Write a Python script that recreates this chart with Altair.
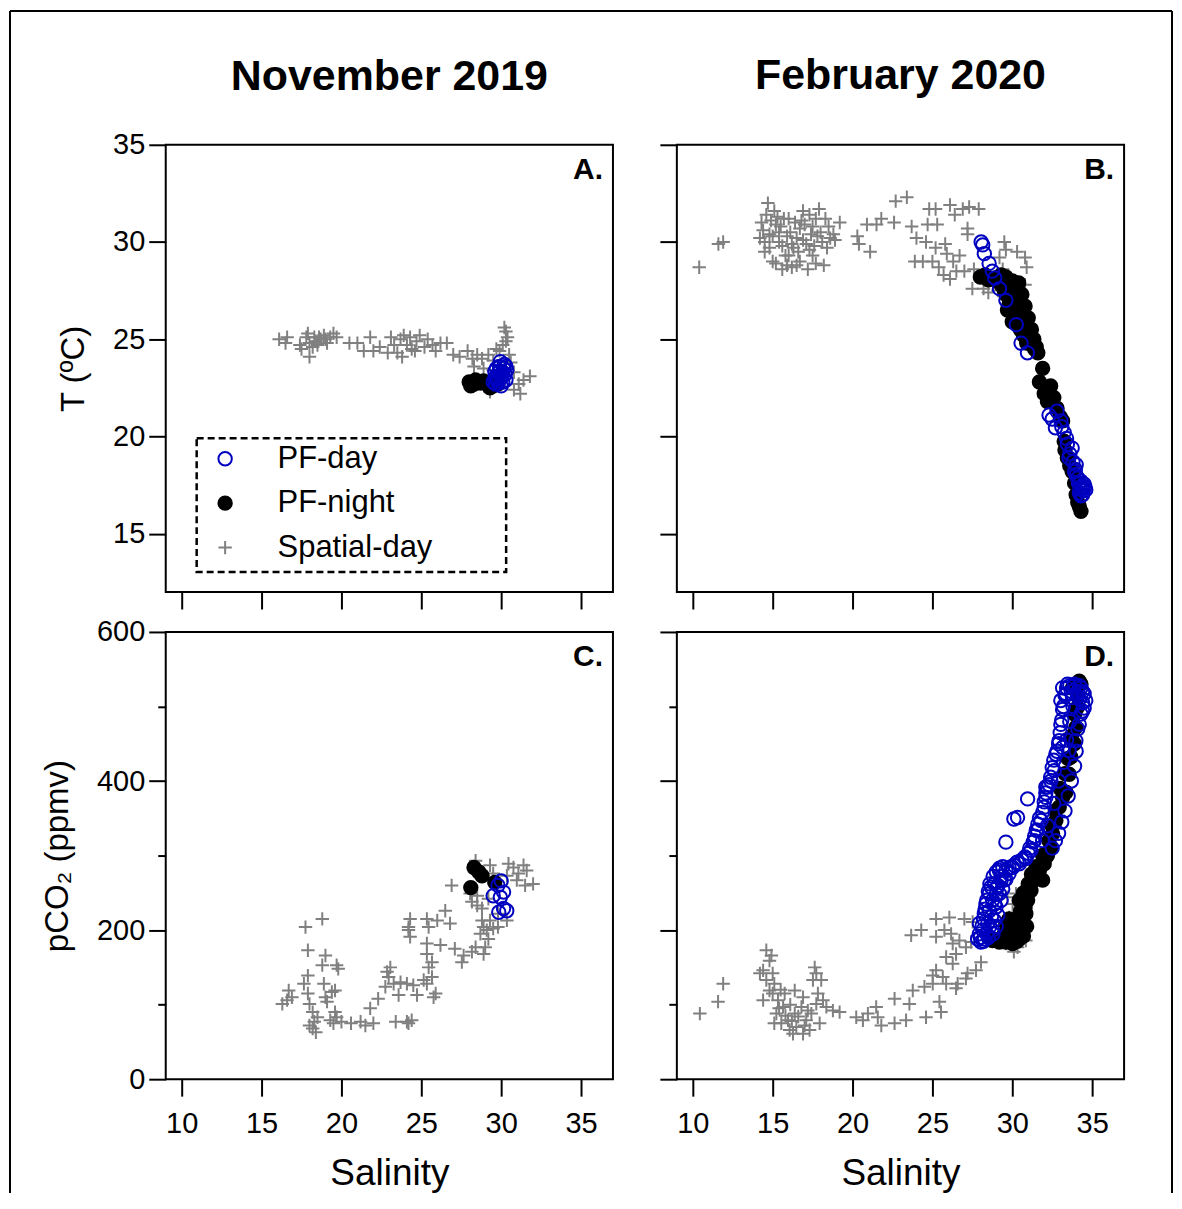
import altair as alt
import pandas as pd

FONT = "Liberation Sans, Arial, Helvetica, sans-serif"

SERIES = ["PF-day", "PF-night", "Spatial-day"]
STROKES = ["#0000C0", "#000000", "#808080"]
FILLS = ["transparent", "#000000", "transparent"]
SHAPES = ["circle", "circle", "M-1,0L1,0M0,-1L0,1"]

COLUMN_TITLES = ["November 2019", "February 2020"]
PANEL_LABELS = ["A.", "B.", "C.", "D."]
SAL_DOMAIN = [9, 37]
SAL_TICKS = [10, 15, 20, 25, 30, 35]
T_DOMAIN = [12, 35]
T_TICKS = [15, 20, 25, 30, 35]
PCO2_DOMAIN = [0, 600]
PCO2_TICKS = [0, 100, 200, 300, 400, 500, 600]

# ---------------- Panel A: November 2019, salinity vs T ----------------
A_SPATIAL = [
    (16.1, 25.0), (16.5, 24.8), (16.6, 25.1), (17.4, 24.7), (17.5, 24.5), (17.8, 25.1),
    (17.9, 25.3), (18.0, 24.8), (18.0, 24.1), (18.2, 24.6), (18.3, 25.1), (18.4, 24.9),
    (18.5, 24.7), (18.6, 25.1), (18.7, 25.0), (18.9, 25.2), (19.0, 25.0), (19.1, 24.8),
    (19.3, 25.1), (19.5, 25.3), (19.7, 25.1), (20.5, 24.8), (21.0, 24.8), (21.4, 24.4),
    (21.8, 25.1), (22.0, 24.4), (22.4, 24.6), (22.9, 24.3), (23.1, 25.1), (23.3, 24.7),
    (23.5, 24.3), (23.7, 25.0), (23.8, 24.1), (23.9, 25.2), (24.1, 24.7), (24.3, 25.1),
    (24.4, 24.5), (24.6, 24.4), (24.7, 24.9), (24.9, 25.2), (25.2, 24.6), (25.4, 25.0),
    (25.7, 24.7), (25.9, 24.4), (26.2, 24.8), (26.6, 24.8), (27.0, 24.2), (27.4, 24.1),
    (27.9, 24.4), (28.2, 24.0), (28.5, 24.2), (28.8, 24.0), (29.2, 24.2), (29.5, 23.9),
    (29.7, 24.5), (30.1, 24.7), (30.2, 25.6), (30.3, 25.4), (30.4, 25.1), (30.3, 24.9),
    (30.5, 24.2), (30.6, 23.8), (30.8, 23.3), (31.1, 22.7), (31.4, 22.9), (31.8, 23.1),
    (31.2, 22.2), (30.8, 22.4), (29.3, 22.3), (28.9, 23.5), (28.3, 23.6), (29.5, 23.4),
    (29.9, 24.4),
]
A_NIGHT = [(28.0, 22.8), (28.4, 22.9), (28.7, 22.75), (29.1, 22.7), (29.5, 22.6),
           (29.8, 22.7), (28.1, 22.6), (28.3, 22.7), (29.3, 22.5), (28.9, 22.85)]
A_DAY = [(29.5, 22.8), (29.7, 23.1), (29.9, 23.35), (30.15, 23.5), (30.0, 23.0),
         (29.8, 22.75), (30.25, 23.2), (29.6, 23.35), (29.9, 23.6), (29.7, 23.5),
         (30.1, 23.3), (29.8, 23.0), (30.3, 22.9), (30.0, 22.6), (29.6, 23.0),
         (30.2, 23.7), (29.95, 23.85), (30.35, 23.4), (29.75, 22.9), (30.05, 23.15),
         (29.85, 23.3), (30.1, 22.8), (29.65, 22.7), (30.3, 23.6)]

# ---------------- Panel B: February 2020, salinity vs T ----------------
B_SPATIAL = [
    (10.4, 28.7), (11.6, 29.9), (11.9, 30.0),
    (14.7, 32.0), (14.6, 31.4), (14.4, 30.6), (14.2, 30.2), (14.8, 29.7), (15.0, 29.0),
    (15.2, 30.9), (15.4, 30.0), (15.7, 31.2), (15.8, 29.3), (16.1, 30.5), (16.2, 28.7),
    (16.3, 29.7), (16.5, 30.2), (16.7, 29.0), (16.9, 31.6), (17.0, 30.9), (17.1, 29.9),
    (17.2, 28.6), (17.4, 30.4), (17.5, 29.3), (17.7, 31.2), (17.9, 31.7), (18.0, 30.5),
    (18.2, 28.8), (18.4, 29.7), (18.6, 30.2), (19.2, 31.0), (18.8, 30.4), (15.1, 31.6),
    (15.9, 28.8), (16.7, 30.7), (15.4, 30.5), (14.8, 30.4), (17.3, 31.4), (14.3, 31.0),
    (14.5, 29.5), (15.6, 29.8), (16.0, 29.3), (16.4, 31.0), (17.6, 29.8), (18.1, 30.0),
    (18.5, 30.8), (14.9, 31.1), (15.3, 31.3), (15.5, 30.8), (15.9, 30.3), (16.2, 29.9),
    (16.6, 29.5), (16.9, 30.1), (17.3, 29.6), (17.8, 30.3), (18.3, 31.2), (15.2, 28.9),
    (15.6, 28.6), (16.5, 28.8), (17.7, 28.9), (14.5, 30.0), (15.0, 30.3), (16.0, 31.2),
    (16.8, 31.1), (17.5, 30.8), (18.9, 30.1),
    (20.3, 30.3), (20.4, 29.9), (21.1, 29.5), (20.9, 30.9), (21.5, 30.9), (21.8, 31.2),
    (22.6, 31.0), (22.7, 32.1), (23.4, 32.3), (23.7, 30.8), (23.9, 29.0), (24.4, 29.0),
    (24.0, 30.2), (24.6, 30.0), (24.7, 30.9), (24.8, 31.7), (25.2, 31.7), (25.3, 30.9),
    (25.2, 29.7), (25.0, 29.0), (25.4, 28.7), (25.7, 28.3), (25.8, 29.9), (26.1, 31.9),
    (26.3, 29.0), (26.4, 31.4), (26.5, 28.5), (26.1, 28.1), (26.9, 31.7), (27.0, 28.5),
    (27.3, 31.8), (27.6, 28.6), (27.9, 31.7), (27.2, 30.4), (27.5, 27.6), (28.2, 27.6),
    (28.5, 27.4), (28.8, 27.9), (29.2, 29.2), (29.5, 30.0), (29.6, 29.6), (29.4, 28.6),
    (30.3, 29.5), (30.8, 29.2), (30.9, 28.7), (30.8, 27.8), (25.9, 29.4), (26.7, 29.3),
    (27.2, 30.7), (29.1, 27.5),
]
B_NIGHT = [
    (28.0, 28.2), (28.3, 28.3), (28.5, 28.05), (29.0, 28.15), (29.3, 28.3), (29.6, 28.2),
    (30.0, 28.0), (30.1, 27.7), (30.2, 27.45), (29.6, 27.3), (30.3, 27.1), (29.8, 26.8),
    (30.4, 26.8), (30.5, 26.5), (29.7, 26.5), (30.65, 26.25), (30.7, 26.0), (30.0, 25.9),
    (30.85, 25.75), (30.9, 25.5), (31.05, 25.25), (31.15, 25.0), (31.25, 24.7),
    (31.4, 24.5), (31.6, 24.3), (30.4, 27.9), (30.6, 27.3), (30.8, 26.7), (31.0, 26.1),
    (31.2, 25.5), (31.35, 25.0), (31.5, 24.6), (29.3, 27.8), (29.5, 27.5), (29.9, 27.0),
    (30.1, 26.3), (30.3, 26.0), (30.5, 25.5), (30.7, 25.2), (30.9, 24.8),
    (31.9, 23.5), (31.7, 22.8), (32.4, 22.6), (32.0, 22.2),
    (32.6, 22.0), (32.2, 21.8), (32.8, 21.45), (33.0, 21.0), (33.15, 20.8), (33.25, 19.75),
    (33.3, 19.3), (33.45, 18.9), (33.6, 18.5), (33.75, 18.2), (33.9, 17.6), (34.0, 17.0),
    (34.1, 16.6), (34.2, 16.4), (34.3, 16.15),
]
B_DAY = [
    (28.05, 30.0), (28.15, 29.85), (28.25, 29.4), (28.55, 28.9), (28.75, 28.5),
    (28.9, 28.15), (29.2, 27.6), (29.6, 27.0), (30.25, 25.75), (30.55, 24.8),
    (30.95, 24.3), (32.3, 21.1), (32.8, 21.3), (33.05, 20.8), (32.7, 20.45),
    (33.25, 20.2), (33.45, 19.6), (33.75, 19.4), (33.55, 18.9), (34.0, 18.55),
    (33.9, 18.2), (34.1, 17.85), (34.3, 17.7), (34.4, 17.35), (34.2, 17.1),
    (34.5, 17.55), (34.3, 16.95), (34.6, 17.25), (33.6, 19.1), (33.8, 18.7),
    (34.0, 18.0), (34.2, 17.6), (34.35, 17.45), (34.45, 17.2), (34.55, 17.4),
    (34.4, 17.0), (34.25, 17.3), (34.15, 17.6), (33.95, 18.3), (33.4, 19.9),
    (33.1, 20.5), (32.5, 20.9),
]

# ---------------- Panel C: November 2019, salinity vs pCO2 ----------------
C_SPATIAL = [
    (16.3, 101), (16.6, 106), (16.7, 119), (16.9, 110), (17.75, 204), (18.8, 215),
    (17.9, 173), (19.0, 166), (18.8, 153), (19.7, 153), (19.8, 148), (17.9, 139),
    (17.65, 128), (17.9, 115), (18.0, 101), (18.2, 90), (18.3, 77), (18.2, 68),
    (18.4, 63), (18.0, 72), (18.5, 83), (18.9, 128), (19.0, 110), (19.4, 117),
    (19.6, 119), (19.1, 104), (19.3, 79), (19.5, 75), (19.7, 83), (19.6, 90),
    (20.0, 77), (20.6, 75), (21.2, 77), (21.5, 72), (22.0, 75), (21.8, 95),
    (22.3, 108), (22.75, 124), (22.96, 137), (23.06, 150), (22.86, 144), (23.27, 128),
    (23.58, 113), (23.7, 130), (24.1, 128), (24.5, 126), (24.73, 113), (23.4, 77),
    (24.1, 77), (24.4, 79), (24.2, 75), (24.3, 215), (24.2, 200), (24.3, 191),
    (24.2, 204), (25.35, 215), (25.46, 204), (26.0, 213), (26.5, 226), (25.35, 182),
    (25.35, 168), (26.2, 180), (25.15, 133), (25.35, 128), (25.67, 137), (25.46, 150),
    (25.67, 157), (25.9, 115), (25.77, 110), (26.8, 209), (27.1, 175), (27.65, 166),
    (27.54, 157), (28.17, 171), (28.4, 177), (28.9, 168), (29.0, 177), (29.2, 188),
    (28.9, 204), (28.7, 195), (29.1, 200), (29.5, 202), (29.8, 204), (29.3, 213),
    (28.8, 213), (28.17, 238), (28.5, 233), (28.8, 229), (26.9, 260), (28.4, 293),
    (29.3, 287), (29.5, 276), (30.46, 289), (30.77, 284), (31.4, 287), (31.6, 280),
    (32.0, 262), (31.5, 260), (30.98, 267), (31.08, 276), (30.36, 213), (29.8, 222),
    (28.5, 246), (28.06, 249), (30.36, 273), (29.2, 242),
]
C_NIGHT = [(28.3, 284), (28.6, 278), (28.8, 273), (28.1, 257), (29.6, 264)]
C_DAY = [(30.0, 266), (29.8, 260), (30.15, 251), (29.5, 246), (29.95, 244),
         (30.35, 226), (29.85, 224), (30.15, 229)]

# ---------------- Panel D: February 2020, salinity vs pCO2 ----------------
D_SPATIAL = [
    (10.44, 88), (11.58, 104), (11.9, 128),
    (14.6, 173), (14.92, 166), (14.4, 146), (14.2, 142), (14.6, 133), (14.8, 119),
    (14.4, 106), (15.1, 128), (15.0, 115), (15.33, 106), (15.23, 88), (15.1, 75),
    (15.65, 97), (15.75, 115), (15.96, 79), (16.06, 66), (16.38, 119), (16.38, 88),
    (16.48, 70), (16.8, 97), (16.9, 61), (17.1, 79), (17.42, 88), (17.63, 150),
    (17.73, 142), (17.52, 133), (18.04, 133), (17.83, 115), (17.73, 101), (18.15, 106),
    (17.94, 75), (18.36, 97), (18.77, 92), (19.19, 90), (15.54, 75), (16.27, 61),
    (17.31, 66), (14.8, 159), (15.0, 142), (15.4, 95), (15.8, 85), (16.2, 78),
    (16.6, 84), (17.0, 72), (17.2, 92), (16.1, 100), (15.5, 120), (16.9, 110),
    (20.23, 83), (20.65, 79), (20.96, 88), (21.48, 97), (21.58, 83), (21.8, 72),
    (22.63, 108), (22.63, 75), (23.35, 79), (23.56, 101), (23.77, 119), (24.6, 83),
    (24.5, 124), (25.44, 104), (25.54, 90), (25.02, 128), (25.86, 128), (26.48, 122),
    (23.67, 193), (24.3, 200), (25.23, 215), (26.06, 217), (25.23, 191), (25.75, 200),
    (26.17, 195), (26.27, 182), (26.48, 168), (25.86, 164), (25.23, 146), (25.02, 139),
    (25.65, 137), (26.27, 155), (26.69, 186), (27.0, 215), (27.1, 177), (27.42, 184),
    (27.2, 142), (27.73, 146), (28.04, 157), (27.1, 135), (26.58, 128), (27.52, 211),
    (29.7, 244), (30.02, 235), (30.23, 249), (29.8, 217), (30.33, 177), (30.1, 171),
    (30.85, 186), (30.65, 200), (29.6, 182), (29.2, 186),
]
D_NIGHT = [
    (28.77, 186), (29.19, 184), (29.6, 184), (30.02, 182), (30.44, 188), (29.8, 200),
    (29.6, 209), (30.65, 204), (30.2, 195), (29.4, 190), (30.6, 215), (30.8, 230),
    (29.5, 195), (29.9, 190), (30.3, 185), (30.7, 192), (30.9, 205), (30.5, 225),
    (30.1, 205), (29.8, 215), (30.7, 250), (31.0, 262), (31.2, 275), (31.5, 285),
    (31.9, 300), (32.3, 320), (32.5, 340), (32.7, 360), (33.0, 390), (33.3, 410),
    (33.5, 430), (33.7, 460), (33.9, 490), (34.1, 515), (34.3, 530),
    (30.85, 222), (30.96, 240), (31.17, 253), (31.38, 267), (31.7, 280), (31.9, 267),
    (32.0, 289), (32.2, 300), (32.42, 311), (32.52, 329), (32.73, 347), (32.94, 365),
    (33.15, 378), (33.36, 385), (33.56, 409), (33.67, 432), (33.88, 450), (33.98, 472),
    (34.08, 499), (34.19, 534), (33.77, 525), (30.44, 240), (30.23, 213),
]
D_DAY = [
    (28.04, 184), (27.94, 195), (27.94, 209), (28.25, 222), (28.35, 235), (28.56, 249),
    (28.67, 258), (28.88, 262), (28.77, 200), (28.88, 213), (28.98, 231), (29.19, 249),
    (29.19, 280), (29.6, 280), (29.5, 267), (29.6, 318), (30.33, 351), (30.1, 349),
    (30.96, 376), (30.02, 284), (30.44, 289), (30.85, 296), (31.17, 307), (31.38, 320),
    (31.58, 334), (31.8, 347), (32.0, 365), (32.1, 378), (32.2, 392), (32.42, 400),
    (32.63, 414), (32.73, 436), (32.94, 454), (33.15, 445), (33.56, 441), (33.04, 476),
    (33.15, 496), (33.04, 508), (33.15, 525), (33.46, 530), (33.88, 528), (34.3, 525),
    (34.5, 517), (34.6, 508), (34.4, 494), (34.19, 476), (33.98, 454), (33.77, 512),
    (34.08, 514), (33.36, 517), (32.1, 392), (28.15, 200), (28.46, 209), (28.56, 226),
    (28.77, 240), (29.08, 258), (29.3, 267), (29.8, 276), (27.83, 188), (28.25, 188),
    (28.0, 190), (28.1, 205), (28.2, 215), (28.3, 228), (28.4, 240), (28.5, 252),
    (28.6, 262), (28.8, 272), (29.0, 278), (29.2, 283), (28.4, 195), (28.6, 205),
    (28.7, 218), (28.9, 235), (29.0, 248), (29.1, 260), (29.3, 272), (29.4, 285),
    (28.2, 185), (28.5, 190), (28.8, 195), (29.0, 205), (29.1, 220), (29.3, 240),
    (29.4, 255), (29.6, 268),
    (29.8, 284), (30.1, 287), (30.3, 291), (30.6, 294), (30.8, 298), (31.0, 303),
    (31.1, 310), (31.3, 318), (31.4, 326), (31.5, 334), (31.6, 342), (31.7, 350),
    (31.9, 358), (32.0, 372), (32.1, 384), (32.3, 395), (32.4, 405), (32.5, 418),
    (32.6, 428), (32.8, 440), (32.9, 450), (33.0, 465), (33.1, 482), (33.2, 500),
    (33.3, 515), (33.4, 525), (33.6, 528), (33.7, 520), (33.9, 530), (34.1, 520),
    (34.2, 510), (34.4, 505), (34.5, 498), (34.3, 490), (34.1, 470), (34.0, 440),
    (33.9, 420), (33.7, 400), (33.5, 380), (33.3, 360), (33.1, 345), (32.9, 330),
    (32.7, 320), (32.5, 310), (31.9, 320), (32.2, 340), (32.6, 370), (32.9, 400),
    (33.2, 425), (33.4, 455), (33.6, 480), (33.8, 500), (34.2, 528), (34.4, 520),
]


def make_df(spatial, night, day):
    rows = []
    for name, pts in (("Spatial-day", spatial), ("PF-night", night), ("PF-day", day)):
        rows += [{"sal": s, "val": v, "series": name} for s, v in pts]
    return pd.DataFrame(rows)


def panel(df, ydom, yticks, ytitle, letter, xlab, ylab, minor,
          title=None, title_offset=0, legend=False, border=False):
    x_axis = alt.Axis(values=SAL_TICKS, labels=xlab, title="Salinity" if xlab else None)
    ykw = dict(values=yticks, labels=ylab)
    if minor:
        ykw["labelExpr"] = "datum.value % 200 === 0 ? datum.label : ''"
        ykw["tickSize"] = {"condition": {"test": "datum.value % 200 === 0", "value": 17},
                           "value": 8}
    y_axis = alt.Axis(title=ytitle if ylab else None, **ykw)
    if legend:
        leg = alt.Legend(title=None, orient="none", legendX=44, legendY=299, padding=0,
                         labelFont=FONT, labelFontSize=31, labelColor="black",
                         labelOffset=37, labelLimit=400, rowPadding=12.5,
                         symbolSize=180, symbolStrokeWidth=2)
    else:
        leg = None
    pts = alt.Chart(df).mark_point(size=180, strokeWidth=2, opacity=1, fillOpacity=1,
                                   strokeOpacity=1).encode(
        x=alt.X("sal:Q", scale=alt.Scale(domain=SAL_DOMAIN, nice=False, zero=False), axis=x_axis),
        y=alt.Y("val:Q", scale=alt.Scale(domain=ydom, nice=False, zero=False), axis=y_axis),
        stroke=alt.Stroke("series:N", scale=alt.Scale(domain=SERIES, range=STROKES), legend=leg),
        fill=alt.Fill("series:N", scale=alt.Scale(domain=SERIES, range=FILLS), legend=leg),
        shape=alt.Shape("series:N", scale=alt.Scale(domain=SERIES, range=SHAPES), legend=leg),
    )
    lab = alt.Chart(pd.DataFrame({"t": [letter]})).mark_text(
        font=FONT, fontSize=30, fontWeight="bold", align="right", baseline="alphabetic",
        color="black").encode(text="t:N", x=alt.value(438), y=alt.value(34))
    layers = [pts, lab]
    if legend:
        box = alt.Chart(pd.DataFrame({"k": [0]})).mark_rect(
            fillOpacity=0, stroke="black", strokeWidth=2.5, strokeDash=[7, 4]).encode(
            x=alt.value(31), x2=alt.value(341), y=alt.value(294), y2=alt.value(428))
        layers.insert(0, box)
    if border:
        bd = pd.DataFrame({"k": [0]})
        rule = dict(color="black", strokeWidth=2)
        layers += [
            alt.Chart(bd).mark_rule(**rule).encode(x=alt.value(-156), y=alt.value(-622), y2=alt.value(562)),
            alt.Chart(bd).mark_rule(**rule).encode(x=alt.value(-156), x2=alt.value(1008), y=alt.value(-622)),
            alt.Chart(bd).mark_rule(**rule).encode(x=alt.value(1008), y=alt.value(-622), y2=alt.value(562)),
        ]
    ch = alt.layer(*layers).properties(width=448, height=448)
    if title:
        ch = ch.properties(title=alt.Title(title, font=FONT, fontSize=43, fontWeight="bold",
                                           color="black", anchor="middle", frame="group",
                                           baseline="alphabetic", offset=title_offset))
    return ch


pA = panel(make_df(A_SPATIAL, A_NIGHT, A_DAY), T_DOMAIN, T_TICKS, "T (ºC)", PANEL_LABELS[0],
           False, True, False, title=COLUMN_TITLES[0], title_offset=-2, legend=True)
pB = panel(make_df(B_SPATIAL, B_NIGHT, B_DAY), T_DOMAIN, T_TICKS, "T (ºC)", PANEL_LABELS[1],
           False, False, False, title=COLUMN_TITLES[1], title_offset=12)
pC = panel(make_df(C_SPATIAL, C_NIGHT, C_DAY), PCO2_DOMAIN, PCO2_TICKS, "pCO\u2082 (ppmv)",
           PANEL_LABELS[2], True, True, True, border=True)
pD = panel(make_df(D_SPATIAL, D_NIGHT, D_DAY), PCO2_DOMAIN, PCO2_TICKS, "pCO\u2082 (ppmv)",
           PANEL_LABELS[3], True, False, True)

chart = alt.concat(pA, pB, pC, pD, columns=2, spacing={"row": 40, "column": 64},
                   bounds="flush").resolve_scale(
    stroke="independent", fill="independent", shape="independent",
    x="independent", y="independent",
).resolve_legend(
    stroke="independent", fill="independent", shape="independent",
).properties(padding=0, background="white").configure_view(
    stroke="black", strokeWidth=2
).configure_axis(
    grid=False, domain=False, ticks=True, tickColor="black", tickWidth=2, tickSize=17,
    labelFont=FONT, labelFontSize=29, labelColor="black", labelPadding=4, labelFlush=False,
    titleFont=FONT, titleFontSize=33, titleFontWeight="normal", titleColor="black",
).configure_axisX(
    labelPadding=13, titleFontSize=37, titlePadding=17,
).configure_axisY(
    titlePadding=22,
)

chart.save("out.html", embed_options={"renderer": "svg", "actions": False})
